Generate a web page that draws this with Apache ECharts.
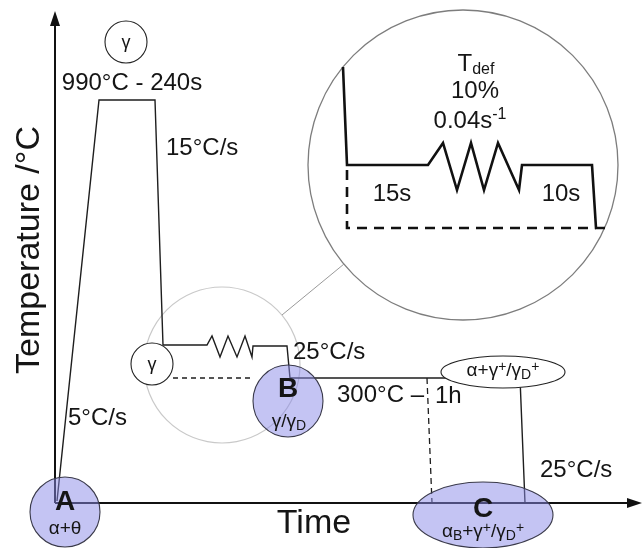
<!DOCTYPE html>
<html>
<head>
<meta charset="utf-8">
<script src="https://cdn.jsdelivr.net/npm/echarts@6/dist/echarts.min.js"></script>
<style>
  html, body { margin: 0; padding: 0; background: #fff; }
  #chart { width: 644px; height: 548px; }
</style>
</head>
<body>
<div id="chart"></div>
<script>
// Thermal cycle schematic: the drawing space is 644 x 548 units, x to the right, y downwards.

// Axes (time / temperature) and their arrow tips [x, y, angle]
const axisLines = [
  [[55, 503], [55, 24]],
  [[55, 503], [628, 503]]
];
const axisArrowTips = [[55, 11, -Math.PI / 2], [642, 503, 0]];

// Main treatment path: heating, 990°C hold, cooling, hot deformation, quench to 300°C, hold, final cooling
const cyclePath = [
  [57, 501], [99, 100], [155, 100], [163, 345], [207, 345],
  [212, 336], [220, 357], [228, 336], [237, 357], [245, 336], [252, 357], [253, 346],
  [287, 346], [290, 378], [520, 378], [525, 503]
];
const cycleDashed = [[173, 378], [253, 378]];
const holdEndDashed = [[427, 378], [432, 503]];

// Enlarged deformation step
const detailPath = [
  [343, 67], [347, 165], [428, 165],
  [443, 143], [457, 190], [471, 143], [484, 190], [498, 143], [519, 190], [522, 165],
  [592, 165], [596, 228], [605, 228]
];
const detailDashed = [[347, 170], [347, 228], [596, 228]];

// Phase regions [cx, cy, rx, ry]
const phaseRegions = [[65, 512, 35, 35], [288, 401, 35, 36], [483, 515, 70, 33]];
// Phase bubbles [cx, cy, rx, ry]
const phaseBubbles = [[126, 42, 21, 21], [152, 364, 21, 21], [503, 372, 62, 16]];
// Magnifier circles [cx, cy, r] and the line joining them
const magnifier = [[222, 365, 78], [463, 165, 155]];
const magnifierLink = [[282, 315], [344, 264]];

// Text
const labelTexts = [
  '990°C - 240s', '15°C/s', '25°C/s', '300°C –', '1h', '5°C/s', '25°C/s',
  'T{sub|def}', '10%', '0.04s{sup|-1}', '15s', '10s',
  'Time', 'Temperature /°C',
  'γ', 'γ', 'α+γ{sup|+}/γ{sub|D}{sup|+}',
  'A', 'α+θ', 'B', 'γ/γ{sub|D}', 'C', 'α{sub|B}+γ{sup|+}/γ{sub|D}{sup|+}'
];
const labelAnchors = [
  [132, 83], [166, 148], [293, 352], [337, 395], [435, 396], [68, 418], [540, 470],
  [476, 64], [475, 91], [470, 121], [392, 194], [561, 194],
  [314, 524], [30, 250],
  [126, 43], [152, 365], [503, 371],
  [65, 502], [65, 529], [288, 389], [289, 422], [483, 509], [483, 532]
];
const labelKinds = [
  'mid', 'left', 'left', 'left', 'left', 'left', 'left',
  'mid', 'mid', 'mid', 'mid', 'mid',
  'title', 'vtitle',
  'bubble', 'bubble', 'phase',
  'letter', 'phase', 'letter', 'phase', 'letter', 'phase'
];

const FONT = '"Liberation Sans", Arial, Helvetica, sans-serif';
const INK = '#151515';

const kindStyle = {
  mid:    { fontSize: 24, align: 'center', scriptRatio: 0.66 },
  left:   { fontSize: 24, align: 'left', scriptRatio: 0.66 },
  title:  { fontSize: 34, align: 'center' },
  vtitle: { fontSize: 34, align: 'center', rotate: Math.PI / 2 },
  bubble: { fontSize: 18, align: 'center' },
  phase:  { fontSize: 19, align: 'center', scriptRatio: 0.74 },
  letter: { fontSize: 28, align: 'center', fontWeight: 'bold' }
};

function richFor(size, ratio) {
  const s = Math.round(size * (ratio || 0.66));
  return {
    sub: { fontSize: s, fontFamily: FONT, fill: INK, verticalAlign: 'bottom', lineHeight: s },
    sup: { fontSize: s, fontFamily: FONT, fill: INK, verticalAlign: 'top', lineHeight: s }
  };
}

function polySeries(points, width, color, dash, z) {
  return {
    type: 'line',
    data: points,
    showSymbol: false,
    symbol: 'none',
    silent: true,
    clip: false,
    z: z || 3,
    lineStyle: { width: width, color: color, type: dash || 'solid', cap: 'butt', join: 'miter' }
  };
}

function ellipseSeries(items, fill, stroke, lineWidth, z) {
  return {
    type: 'custom',
    coordinateSystem: 'cartesian2d',
    data: items,
    silent: true,
    clip: false,
    z: z,
    renderItem: function (params, api) {
      const c = api.coord([api.value(0), api.value(1)]);
      const size = api.size([api.value(2), api.value(3)]);
      return {
        type: 'ellipse',
        shape: { cx: c[0], cy: c[1], rx: size[0], ry: size[1] },
        style: { fill: fill, stroke: stroke, lineWidth: lineWidth }
      };
    }
  };
}

const series = [];

// magnifier circles and link
series.push({
  type: 'custom',
  coordinateSystem: 'cartesian2d',
  data: magnifier,
  silent: true,
  clip: false,
  z: 1,
  renderItem: function (params, api) {
    const c = api.coord([api.value(0), api.value(1)]);
    const r = api.size([api.value(2), api.value(2)])[0];
    return {
      type: 'circle',
      shape: { cx: c[0], cy: c[1], r: r },
      style: {
        fill: 'none',
        stroke: params.dataIndex === 0 ? '#c9c9c9' : '#7d7d7d',
        lineWidth: params.dataIndex === 0 ? 1.2 : 1.3
      }
    };
  }
});
series.push(polySeries(magnifierLink, 1, '#9a9a9a', 'solid', 1));

// axes
axisLines.forEach(function (seg) { series.push(polySeries(seg, 2, '#111', 'solid', 4)); });
series.push({
  type: 'custom',
  coordinateSystem: 'cartesian2d',
  data: axisArrowTips,
  silent: true,
  clip: false,
  z: 4,
  renderItem: function (params, api) {
    const tip = api.coord([api.value(0), api.value(1)]);
    const a = api.value(2);
    const len = 15, half = 5;
    const bx = tip[0] - Math.cos(a) * len, by = tip[1] - Math.sin(a) * len;
    const nx = -Math.sin(a) * half, ny = Math.cos(a) * half;
    return {
      type: 'polygon',
      shape: { points: [tip, [bx + nx, by + ny], [bx - nx, by - ny]] },
      style: { fill: '#111' }
    };
  }
});

// treatment path
series.push(polySeries(cyclePath, 1.4, '#1e1e1e', 'solid', 3));
series.push(polySeries(cycleDashed, 1.3, '#1e1e1e', [5, 4], 3));
series.push(polySeries(holdEndDashed, 1.3, '#1e1e1e', [6, 4], 3));

// detail path
series.push(polySeries(detailPath, 2.6, '#111', 'solid', 3));
series.push(polySeries(detailDashed, 2.6, '#111', [10, 7], 3));

// phase bubbles and regions
series.push(ellipseSeries(phaseBubbles, '#ffffff', '#222', 1.1, 5));
series.push(ellipseSeries(phaseRegions, 'rgba(138,138,232,0.5)', '#3a3a4a', 1.1, 6));

// text
series.push({
  type: 'custom',
  coordinateSystem: 'cartesian2d',
  data: labelAnchors,
  silent: true,
  clip: false,
  z: 10,
  renderItem: function (params, api) {
    const i = params.dataIndex;
    const p = api.coord([api.value(0), api.value(1)]);
    const ks = kindStyle[labelKinds[i]];
    return {
      type: 'text',
      x: p[0],
      y: p[1],
      rotation: ks.rotate || 0,
      style: {
        text: labelTexts[i],
        fontSize: ks.fontSize,
        fontFamily: FONT,
        fontWeight: ks.fontWeight || 'normal',
        fill: INK,
        align: ks.align,
        verticalAlign: 'middle',
        lineHeight: Math.round(ks.fontSize * 1.15),
        rich: richFor(ks.fontSize, ks.scriptRatio)
      }
    };
  }
});

const chart = echarts.init(document.getElementById('chart'), null, { renderer: 'canvas' });
chart.setOption({
  animation: false,
  backgroundColor: '#ffffff',
  grid: { left: 0, right: 0, top: 0, bottom: 0 },
  xAxis: { type: 'value', min: 0, max: 644, show: false },
  yAxis: { type: 'value', min: 0, max: 548, inverse: true, show: false },
  series: series
});
</script>
</body>
</html>
